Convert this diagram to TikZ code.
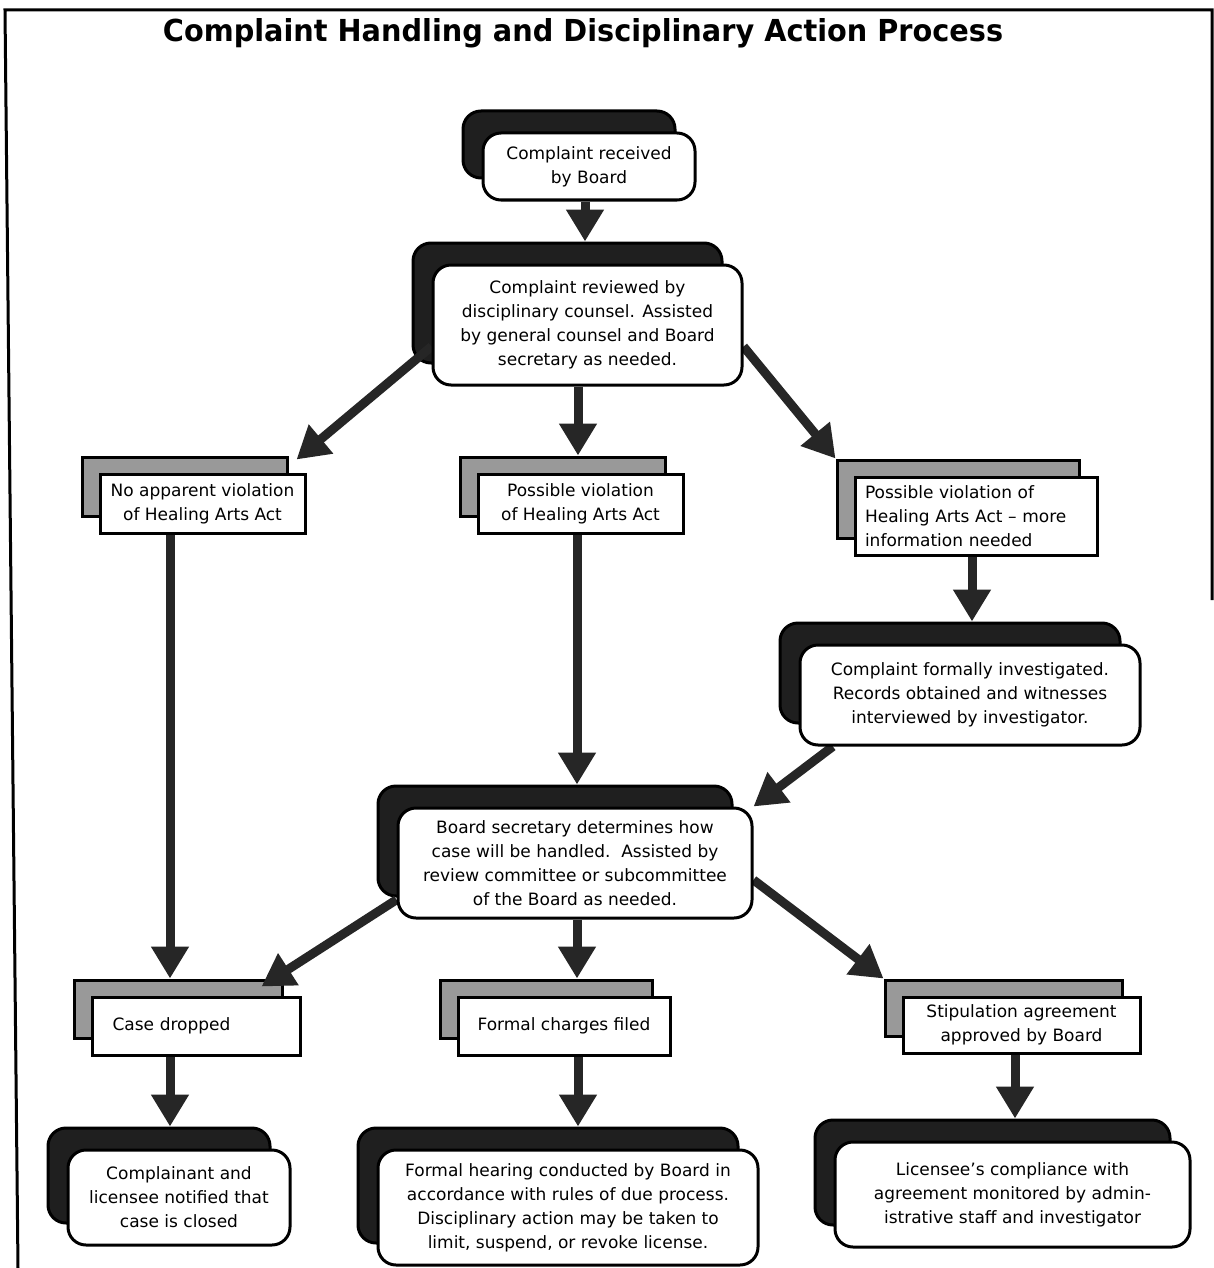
\documentclass[tikz,border=0pt]{standalone}
\usepackage{fontspec}
\setmainfont{DejaVu Sans}
\usetikzlibrary{arrows.meta,calc}
\pgfdeclarelayer{shad}
\pgfdeclarelayer{arr}
\pgfsetlayers{shad,arr,main}
\tikzset{
  txt/.style={font=\fontsize{17}{24}\selectfont},
  rbox/.style={txt, draw=black, line width=3pt, fill=white, rounded corners=18pt, align=center, inner sep=4pt},
  rshadow/.style={draw=black, line width=3pt, fill=black!88, rounded corners=18pt, inner sep=0pt},
  sbox/.style={txt, draw=black, line width=3pt, fill=white, align=center, inner sep=4pt},
  sshadow/.style={draw=black, line width=3pt, fill=black!40, inner sep=0pt},
  flow/.style={line width=9pt, draw=black!85, -{Triangle[width=36pt,length=32pt]}},
  frameline/.style={line width=3pt, draw=black},
}
\begin{document}
\begin{tikzpicture}[x=1pt,y=-1pt]
\useasboundingbox (0,0) rectangle (1214,1268);
\coordinate (ftl) at (5,10);
\coordinate (ftr) at (1212,10);
\coordinate (fbl) at (18,1268);
\coordinate (fbr) at (1212,600);
\draw[frameline] (fbl) -- (ftl) -- (ftr) -- (fbr);
\node[anchor=base] (title) at (583,42) {\resizebox{840pt}{23pt}{\bfseries Complaint Handling and Disciplinary Action Process}};

% shadows
\begin{pgfonlayer}{shad}
\node[rshadow, minimum width=212pt, minimum height=67pt] (As) at (569,144.5) {};
\node[rshadow, minimum width=309pt, minimum height=120pt] (Bs) at (567.5,303) {};
\node[sshadow, minimum width=205pt, minimum height=59pt] (C1s) at (184.5,486.5) {};
\node[sshadow, minimum width=205pt, minimum height=59pt] (C2s) at (562.5,486.5) {};
\node[sshadow, minimum width=242pt, minimum height=78pt] (C3s) at (958,499) {};
\node[rshadow, minimum width=340pt, minimum height=100pt] (Ds) at (950,673) {};
\node[rshadow, minimum width=354pt, minimum height=110pt] (Es) at (555,841) {};
\node[sshadow, minimum width=208pt, minimum height=58pt] (F1s) at (178,1009) {};
\node[sshadow, minimum width=212pt, minimum height=58pt] (F2s) at (546,1009) {};
\node[sshadow, minimum width=237pt, minimum height=56pt] (F3s) at (1003.5,1008) {};
\node[rshadow, minimum width=222pt, minimum height=95pt] (G1s) at (159,1175.5) {};
\node[rshadow, minimum width=380pt, minimum height=115pt] (G2s) at (548,1185.5) {};
\node[rshadow, minimum width=355pt, minimum height=105pt] (G3s) at (992.5,1172.5) {};
\end{pgfonlayer}

% front boxes
\node[rbox, minimum width=212pt, minimum height=67pt] (A) at (589,166.5) {Complaint received\\by Board};
\node[rbox, minimum width=309pt, minimum height=120pt] (B) at (587.5,325) {Complaint reviewed by\\disciplinary counsel. Assisted\\by general counsel and Board\\secretary as needed.};
\node[sbox, minimum width=205pt, minimum height=59pt] (C1) at (202.5,503.5) {No apparent violation\\of Healing Arts Act};
\node[sbox, minimum width=205pt, minimum height=59pt] (C2) at (580.5,503.5) {Possible violation\\of Healing Arts Act};
\node[sbox, align=left, text width=222pt, inner xsep=10pt, minimum height=78pt] (C3) at (976,516) {Possible violation of\\Healing Arts Act – more\\information needed};
\node[rbox, minimum width=340pt, minimum height=100pt] (D) at (970,695) {Complaint formally investigated.\\Records obtained and witnesses\\interviewed by investigator.};
\node[rbox, minimum width=354pt, minimum height=110pt] (E) at (575,863) {Board secretary determines how\\case will be handled.\ \ Assisted by\\review committee or subcommittee\\of the Board as needed.};
\node[sbox, align=left, text width=187pt, inner xsep=10.5pt, minimum height=58pt] (F1) at (196,1026) {\hspace*{10pt}Case dropped};
\node[sbox, minimum width=212pt, minimum height=58pt] (F2) at (564,1026) {Formal charges filed};
\node[sbox, minimum width=237pt, minimum height=56pt] (F3) at (1021.5,1025) {Stipulation agreement\\approved by Board};
\node[rbox, minimum width=222pt, minimum height=95pt] (G1) at (179,1197.5) {Complainant and\\licensee notified that\\case is closed};
\node[rbox, minimum width=380pt, minimum height=115pt] (G2) at (568,1207.5) {Formal hearing conducted by Board in\\accordance with rules of due process.\\Disciplinary action may be taken to\\limit, suspend, or revoke license.};
\node[rbox, minimum width=355pt, minimum height=105pt] (G3) at (1012.5,1194.5) {Licensee's compliance with\\agreement monitored by admin-\\istrative staff and investigator};

% connectors
\begin{pgfonlayer}{arr}
\draw[flow] (A.south -| 585,0) -- (Bs.north -| 585,0);
\draw[flow] ($(B.west)!0.35!(B.south west)$) -- ($(C1s.north east)+(8,4)$);
\draw[flow] (B.south -| 578,0) -- (C2s.north -| 578,0);
\draw[flow] ($(B.east)!0.35!(B.south east)$) -- (C3s.north west);
\draw[flow] (C1.south -| 170,0) -- (F1s.north -| 170,0);
\draw[flow] (C2.south -| 577,0) -- (Es.north -| 577,0);
\draw[flow] (C3.south -| 972,0) -- (Ds.north -| 972,0);
\draw[flow] ($(D.south west)!0.1!(D.south east)$) -- (E.north east);
\draw[flow] ($(E.west)!0.65!(E.south west)$) -- ($(F1s.north east)+(-22,8)$);
\draw[flow] (E.south -| 577,0) -- (F2s.north -| 577,0);
\draw[flow] ($(E.east)!0.3!(E.south east)$) -- (F3s.north west);
\draw[flow] (F1.south -| 170,0) -- (G1s.north -| 170,0);
\draw[flow] (F2.south -| 578,0) -- (G2s.north -| 578,0);
\draw[flow] (F3.south -| 1015,0) -- (G3s.north -| 1015,0);
\end{pgfonlayer}
\end{tikzpicture}
\end{document}
